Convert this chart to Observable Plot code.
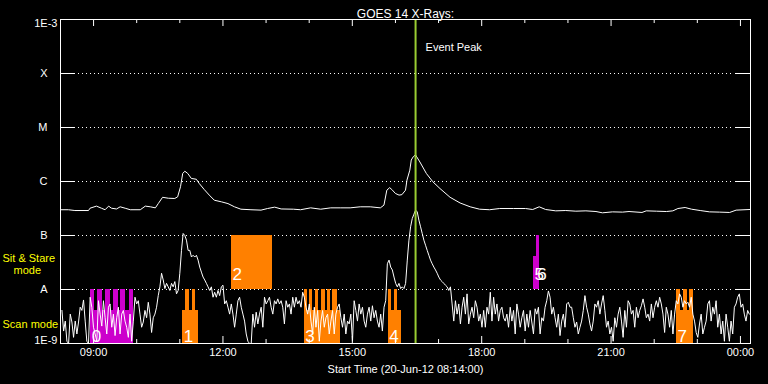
<!DOCTYPE html>
<html><head><meta charset="utf-8">
<script src="https://cdn.jsdelivr.net/npm/d3@7"></script>
<script src="https://cdn.jsdelivr.net/npm/@observablehq/plot@0.6"></script>
<style>
html,body{margin:0;padding:0;background:#000;}
#chart svg{display:block;}
</style>
</head><body><div id="chart"></div>
<script>
// ---------- data ----------
const titleText = "GOES 14 X-Rays:";
const xTitleText = "Start Time (20-Jun-12 08:14:00)";
const xDomain = ["08:14", "00:14"];
const hourTicks = ["09:00","10:00","11:00","12:00","13:00","14:00","15:00","16:00","17:00","18:00","19:00","20:00","21:00","22:00","23:00","00:00"];
const xTickLabels = ["09:00","12:00","15:00","18:00","21:00","00:00"];
const levelValues = [1e-8, 1e-7, 1e-6, 1e-5, 1e-4];
const levelNames = ["A", "B", "C", "M", "X"];
const yEndValues = [1e-9, 1e-3];
const yEndNames = ["1E-9", "1E-3"];

// long channel (upper curve)
const longTime = ["08:15","08:25","08:34","08:53","08:55","09:04","09:11","09:16","09:21","09:25","09:32","09:37","09:44","09:51","10:05","10:12","10:19","10:26","10:30","10:36","10:44","10:53","10:57","11:01","11:04","11:07","11:11","11:16","11:23","11:27","11:34","11:41","11:48","11:58","12:07","12:16","12:25","12:39","12:53","13:02","13:12","13:21","13:38","13:48","14:02","14:16","14:30","14:44","14:57","15:11","15:25","15:39","15:44","15:48","15:52","15:55","16:00","16:05","16:09","16:14","16:16","16:20","16:22","16:25","16:28","16:34","16:43","16:52","17:02","17:16","17:30","17:44","17:57","18:11","18:25","18:44","19:01","19:11","19:20","19:29","19:43","19:57","20:11","20:25","20:39","20:48","21:02","21:16","21:25","21:43","21:49","22:03","22:17","22:26","22:33","22:43","22:52","23:04","23:17","23:31","23:45","23:54","00:13"];
const longFlux = [3.0e-7,3.0e-7,2.9e-7,2.9e-7,3.2e-7,3.5e-7,3.2e-7,3.0e-7,3.5e-7,3.2e-7,3.1e-7,3.4e-7,3.2e-7,3.0e-7,3.0e-7,3.5e-7,3.4e-7,3.25e-7,3.9e-7,5.1e-7,4.9e-7,4.85e-7,5.2e-7,8.0e-7,1.41e-6,1.55e-6,1.41e-6,1.14e-6,1.10e-6,9.2e-7,7.1e-7,5.6e-7,4.5e-7,4.2e-7,3.9e-7,3.4e-7,3.07e-7,3.0e-7,2.95e-7,3.16e-7,3.35e-7,3.1e-7,3.07e-7,3.0e-7,3.25e-7,3.07e-7,3.25e-7,3.25e-7,3.25e-7,3.4e-7,3.4e-7,3.25e-7,3.65e-7,6.9e-7,7.7e-7,7.1e-7,6.0e-7,5.6e-7,5.7e-7,6.9e-7,1.06e-6,1.62e-6,2.5e-6,2.9e-6,3.1e-6,2.3e-6,1.41e-6,9.9e-7,7.4e-7,5.1e-7,4.0e-7,3.4e-7,3.07e-7,3.0e-7,3.16e-7,3.16e-7,3.16e-7,3.03e-7,3.4e-7,3.03e-7,2.86e-7,2.9e-7,2.82e-7,2.86e-7,2.78e-7,2.63e-7,2.74e-7,2.71e-7,2.78e-7,2.67e-7,2.86e-7,2.82e-7,2.78e-7,2.86e-7,3.16e-7,3.3e-7,3.07e-7,2.9e-7,2.74e-7,2.71e-7,2.67e-7,2.95e-7,3.03e-7];

// short channel (lower curve), regular cadence
const shortStart = "08:16";
const shortCadenceMin = 2.31;
const shortFlux = [
4.1e-9,1.7e-9,2.6e-9,1.1e-9,1.0e-9,3.5e-9,2.5e-9,1.3e-9,2.6e-9,1.5e-9,
2.5e-9,4.7e-9,4.1e-9,6.4e-9,2.6e-9,1.1e-9,1.0e-9,7.2e-9,4.7e-9,2.0e-9,
1.5e-9,1.1e-9,6.2e-9,3.5e-9,2.1e-9,6.2e-9,3.0e-9,1.5e-9,4.7e-9,5.4e-9,
2.0e-9,3.5e-9,1.4e-9,3.0e-9,4.7e-9,1.5e-9,3.5e-9,4.1e-9,2.6e-9,2.0e-9,
1.3e-9,3.5e-9,1.1e-9,2.6e-9,7.2e-9,5.4e-9,6.2e-9,3.5e-9,2.0e-9,2.5e-9,
4.1e-9,3.0e-9,5.8e-9,3.5e-9,1.6e-9,3.0e-9,3.5e-9,4.7e-9,7.7e-9,1.12e-8,
2.0e-8,1.5e-8,1.04e-8,1.3e-8,1.12e-8,9.6e-9,1.3e-8,1.12e-8,1.4e-8,8.3e-9,
9.6e-9,2.0e-8,5.3e-8,1.09e-7,1.0e-7,8.2e-8,5.3e-8,5.3e-8,4.0e-8,4.3e-8,
4.0e-8,4.3e-8,3.5e-8,2.6e-8,2.1e-8,1.7e-8,1.5e-8,1.3e-8,1.12e-8,9.6e-9,
1.12e-8,7.2e-9,8.9e-9,7.2e-9,9.6e-9,7.7e-9,1.12e-8,1.2e-8,5.4e-9,6.2e-9,
4.7e-9,3.5e-9,5.4e-9,3.5e-9,2.0e-9,3.5e-9,6.2e-9,7.2e-9,4.7e-9,3.5e-9,
2.6e-9,1.5e-9,1.1e-9,1.0e-9,1.0e-9,3.5e-9,2.0e-9,3.8e-9,2.3e-9,3.5e-9,
4.7e-9,2.0e-9,7.2e-9,5.4e-9,6.2e-9,7.2e-9,4.7e-9,3.5e-9,6.2e-9,5.4e-9,
6.7e-9,5.4e-9,6.2e-9,4.7e-9,2.3e-9,6.2e-9,4.7e-9,5.4e-9,3.5e-9,7.2e-9,
4.7e-9,7.2e-9,5.4e-9,6.2e-9,4.7e-9,8.9e-9,7.2e-9,4.7e-9,3.5e-9,5.4e-9,
2.6e-9,1.5e-9,4.7e-9,2.0e-9,4.1e-9,1.1e-9,2.6e-9,4.1e-9,2.0e-9,3.0e-9,
3.5e-9,1.5e-9,2.6e-9,4.1e-9,1.5e-9,3.5e-9,4.7e-9,5.4e-9,3.0e-9,2.0e-9,
3.5e-9,1.5e-9,2.6e-9,2.3e-9,3.5e-9,1.1e-9,6.2e-9,4.1e-9,2.6e-9,5.4e-9,
3.5e-9,4.7e-9,2.6e-9,2.0e-9,3.5e-9,4.7e-9,2.6e-9,5.0e-9,3.0e-9,4.1e-9,
2.6e-9,2.0e-9,3.5e-9,1.7e-9,4.7e-9,6.2e-9,3.0e-8,3.5e-8,2.6e-8,2.3e-8,
1.7e-8,1.3e-8,1.12e-8,1.3e-8,1.04e-8,1.12e-8,1.04e-8,1.3e-8,3.5e-8,8.2e-8,
1.45e-7,2.06e-7,2.48e-7,2.95e-7,2.74e-7,1.92e-7,1.45e-7,1.09e-7,8.2e-8,6.6e-8,
5.3e-8,4.3e-8,3.5e-8,3.0e-8,2.6e-8,2.3e-8,2.0e-8,1.7e-8,1.5e-8,1.4e-8,
1.3e-8,1.2e-8,1.12e-8,9.6e-9,1.12e-8,5.4e-9,2.6e-9,6.2e-9,3.5e-9,5.4e-9,
2.3e-9,4.7e-9,7.2e-9,3.5e-9,8.3e-9,2.3e-9,3.5e-9,4.7e-9,3.0e-9,6.2e-9,
4.7e-9,2.6e-9,3.5e-9,2.0e-9,4.1e-9,2.0e-9,4.7e-9,3.5e-9,8.9e-9,2.6e-9,
7.2e-9,3.5e-9,5.4e-9,2.6e-9,4.1e-9,4.7e-9,3.0e-9,2.6e-9,3.5e-9,2.0e-9,
4.7e-9,2.6e-9,4.1e-9,1.5e-9,5.4e-9,3.5e-9,2.0e-9,3.0e-9,4.1e-9,1.7e-9,
3.5e-9,2.0e-9,4.1e-9,2.5e-9,1.5e-9,4.4e-9,3.5e-9,4.7e-9,1.5e-9,3.0e-9,
2.6e-9,4.7e-9,6.2e-9,9.4e-9,7.2e-9,3.5e-9,4.7e-9,3.0e-9,2.0e-9,3.5e-9,
1.4e-9,2.6e-9,3.5e-9,2.0e-9,5.4e-9,5.8e-9,4.7e-9,4.7e-9,3.0e-9,2.0e-9,
2.5e-9,1.5e-9,2.0e-9,2.6e-9,4.1e-9,7.7e-9,4.7e-9,3.5e-9,2.3e-9,1.7e-9,
2.6e-9,5.4e-9,4.7e-9,6.2e-9,3.5e-9,5.4e-9,7.7e-9,4.1e-9,2.0e-9,2.6e-9,
1.5e-9,2.0e-9,1.1e-9,3.0e-9,2.0e-9,3.5e-9,4.7e-9,2.6e-9,1.3e-9,4.1e-9,
2.0e-9,6.2e-9,5.4e-9,3.5e-9,4.1e-9,2.0e-9,4.7e-9,3.0e-9,4.1e-9,5.0e-9,
6.7e-9,4.7e-9,3.0e-9,3.5e-9,2.6e-9,5.4e-9,3.0e-9,4.7e-9,6.2e-9,4.7e-9,
7.2e-9,5.4e-9,3.5e-9,1.6e-9,4.7e-9,3.5e-9,2.0e-9,4.1e-9,1.5e-9,3.5e-9,
6.2e-9,5.4e-9,8.3e-9,7.2e-9,4.7e-9,6.2e-9,5.4e-9,5.8e-9,4.7e-9,7.2e-9,
3.5e-9,2.6e-9,1.6e-9,1.3e-9,2.3e-9,3.5e-9,1.5e-9,2.0e-9,2.6e-9,5.4e-9,
6.2e-9,2.6e-9,4.7e-9,3.5e-9,6.2e-9,2.0e-9,3.5e-9,1.5e-9,2.6e-9,1.1e-9,
3.5e-9,2.0e-9,1.1e-9,2.6e-9,1.5e-9,4.7e-9,5.4e-9,7.2e-9,8.3e-9,4.7e-9,
5.4e-9,3.5e-9,2.6e-9,4.1e-9,3.5e-9
];

// observing modes
const modeNames = ["Scan", "Sit & Stare"];
const modeLow = [1e-9, 1e-8];
const modeHigh = [1e-8, 1e-7];

// observation blocks
const obsLabel = ["0","1","2","3","4","5","6","7"];
const obsMode  = ["Scan","Scan","Sit & Stare","Scan","Scan","Sit & Stare","Sit & Stare","Scan"];
const obsGroup = ["B","A","A","A","A","B","B","A"];
const obsStart = ["08:56","11:04","12:12","13:53","15:50","19:12","19:16","22:31"];
const obsEnd   = ["09:55","11:26","13:09","14:44","16:08","19:20","19:20","22:54"];
const obsTop   = [4.1e-9, 4.1e-9, 1e-7, 4.1e-9, 4.1e-9, 4.1e-8, 1e-7, 4.1e-9];

// individual rasters inside scan blocks
const rasterBlock = ["0","0","0","0","0","0","1","1","3","3","3","3","3","3","4","4","7","7","7"];
const rasterStart = ["08:56","09:06","09:17","09:28","09:38","09:50","11:08","11:17","13:53","14:00","14:09","14:17","14:25","14:33","15:50","15:58","22:31","22:41","22:49"];
const rasterEnd   = ["09:01","09:12","09:24","09:35","09:45","09:55","11:14","11:22","13:57","14:05","14:13","14:22","14:30","14:39","15:55","16:03","22:37","22:46","22:54"];

const eventPeak = "16:28";

// ---------- build ----------
const day0 = Date.UTC(2012, 5, 20);
const toDate = s => { const [h, m] = s.split(":").map(Number); return new Date(day0 + ((h < 8 ? h + 24 : h) * 60 + m) * 60000); };

const longData = longTime.map((t, i) => ({time: toDate(t), flux: longFlux[i]}));
const t0 = +toDate(shortStart);
const shortData = shortFlux.map((f, i) => ({time: new Date(t0 + i * shortCadenceMin * 60000), flux: f}));
const modeIdx = m => modeNames.indexOf(m);
const obs = obsLabel.map((label, i) => ({
  label, mode: obsMode[i], group: obsGroup[i],
  start: toDate(obsStart[i]), end: toDate(obsEnd[i]),
  bottom: modeLow[modeIdx(obsMode[i])], top: obsTop[i]
}));
const rasters = rasterBlock.map((b, i) => {
  const o = obs.find(d => d.label === b);
  return {group: o.group, start: toDate(rasterStart[i]), end: toDate(rasterEnd[i]), bottom: modeLow[modeIdx(o.mode)], top: modeHigh[modeIdx(o.mode)]};
});
const majorDates = xTickLabels.map(toDate);
const minorDates = hourTicks.filter(h => !xTickLabels.includes(h)).map(toDate);

const font = "'Liberation Sans', Arial, sans-serif";
const white = "#ffffff", yellow = "#ffff00";

const chart = Plot.plot({
  width: 768, height: 384,
  marginTop: 19, marginBottom: 41, marginLeft: 60, marginRight: 18,
  style: {background: "#000", color: white, fontFamily: font, fontSize: "11px"},
  x: {type: "utc", domain: xDomain.map(toDate), axis: null},
  y: {type: "log", domain: [yEndValues[0], yEndValues[1]], axis: null},
  color: {domain: ["A", "B"], range: ["#ff8000", "#cc00cc"]},
  marks: [
    // dotted level lines + solid end ticks
    Plot.ruleY(levelValues, {y: d => d, stroke: white, strokeDasharray: "1,3", insetLeft: 18, insetRight: 18}),
    Plot.ruleY(levelValues, {y: d => d, stroke: white, insetRight: 675}),
    Plot.ruleY(levelValues, {y: d => d, stroke: white, insetLeft: 675}),
    // observation blocks
    Plot.rect(obs, {x1: "start", x2: "end", y1: "bottom", y2: "top", fill: "group", shapeRendering: "crispEdges"}),
    Plot.rect(rasters, {x1: "start", x2: "end", y1: "bottom", y2: "top", fill: "group", shapeRendering: "crispEdges"}),
    Plot.text(obs.filter(d => d.mode === "Scan"), {x: "start", y: "bottom", text: "label", textAnchor: "start", lineAnchor: "bottom", dx: 1, dy: -2, fill: white, fontSize: 17}),
    Plot.text(obs.filter(d => d.mode !== "Scan"), {x: "start", y: "bottom", text: "label", textAnchor: "start", lineAnchor: "bottom", dx: 1, dy: -10, fill: white, fontSize: 17}),
    // flux curves
    Plot.line(longData, {x: "time", y: "flux", stroke: white, strokeWidth: 1, clip: true}),
    Plot.line(shortData, {x: "time", y: "flux", stroke: white, strokeWidth: 1, clip: true}),
    // event peak
    Plot.ruleX([eventPeak], {x: d => toDate(d), stroke: "#9acd32", strokeWidth: 2}),
    Plot.text([eventPeak], {x: d => toDate(d), text: () => "Event Peak", frameAnchor: "top", dy: 24, dx: 10, textAnchor: "start", fill: white, fontSize: 11}),
    // frame and hour ticks
    Plot.frame({stroke: white}),
    Plot.ruleX(majorDates, {x: d => d, stroke: white, insetTop: 317}),
    Plot.ruleX(majorDates, {x: d => d, stroke: white, insetBottom: 317}),
    Plot.ruleX(minorDates, {x: d => d, stroke: white, insetTop: 320}),
    Plot.ruleX(minorDates, {x: d => d, stroke: white, insetBottom: 320}),
    // y labels
    Plot.text(levelValues, {y: d => d, text: (d, i) => levelNames[i], frameAnchor: "left", dx: -13, textAnchor: "end", fill: white, fontSize: 11}),
    Plot.text([yEndValues[1]], {y: d => d, text: () => yEndNames[1], frameAnchor: "left", dx: -3, dy: 4, textAnchor: "end", fill: white, fontSize: 11}),
    Plot.text([yEndValues[0]], {y: d => d, text: () => yEndNames[0], frameAnchor: "left", dx: -3, dy: -3, textAnchor: "end", fill: white, fontSize: 11}),
    // mode labels
    Plot.text([1], {y: () => Math.sqrt(modeLow[1] * modeHigh[1]), text: () => "Sit & Stare", frameAnchor: "left", dx: -58, dy: -4, textAnchor: "start", fill: yellow, fontSize: 11}),
    Plot.text([1], {y: () => Math.sqrt(modeLow[1] * modeHigh[1]), text: () => "mode", frameAnchor: "left", dx: -47, dy: 8, textAnchor: "start", fill: yellow, fontSize: 11}),
    Plot.text([0], {y: () => Math.sqrt(modeLow[0] * modeHigh[0]), text: () => "Scan mode", frameAnchor: "left", dx: -58, dy: 8, textAnchor: "start", fill: yellow, fontSize: 11}),
    // x tick labels and titles
    Plot.text(xTickLabels, {x: d => toDate(d), text: d => d, frameAnchor: "bottom", dy: 12, fill: white, fontSize: 11}),
    Plot.text([titleText], {text: d => d, frameAnchor: "top", dy: -10, fill: white, fontSize: 12}),
    Plot.text([xTitleText], {text: d => d, frameAnchor: "bottom", dy: 29, fill: white, fontSize: 11})
  ]
});
document.getElementById("chart").appendChild(chart);
</script>
</body></html>
